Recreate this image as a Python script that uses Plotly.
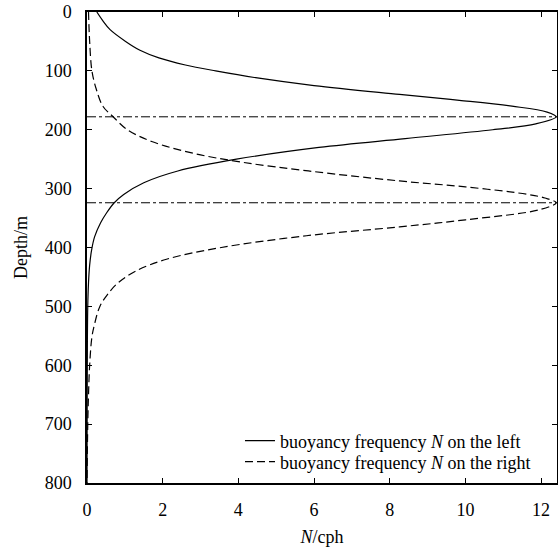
import plotly.graph_objects as go

# Solid curve: buoyancy frequency N on the left
depth_left = [0, 15, 30, 50, 65, 78, 90, 100, 112, 125, 140, 150, 160, 170, 178,
              190, 200, 215, 230, 250, 270, 290, 310, 324, 341, 358, 382, 405,
              430, 460, 500, 560, 650, 800]
n_left = [0.26, 0.42, 0.61, 1.02, 1.4, 1.9, 2.6, 3.4, 4.5, 6.0, 8.26, 9.84, 11.23,
          12.16, 12.4, 11.86, 10.72, 8.41, 6.13, 3.95, 2.4, 1.5, 0.97, 0.72, 0.52,
          0.36, 0.2, 0.12, 0.07, 0.04, 0.02, 0.01, 0.005, 0.0]

# Dashed curve: buoyancy frequency N on the right
depth_right = [0, 50, 100, 130, 160, 178, 200, 220, 240, 255, 270, 287, 297, 310,
               316, 324, 336, 353, 365, 380, 400, 420, 440, 460, 480, 500, 530,
               552, 600, 650, 700, 800]
n_right = [0.04, 0.07, 0.13, 0.24, 0.42, 0.69, 1.07, 1.71, 2.81, 4.08, 5.85, 8.26,
           10.0, 11.67, 12.1, 12.4, 11.95, 10.0, 8.26, 5.8, 3.55, 2.1, 1.29, 0.82,
           0.54, 0.34, 0.2, 0.13, 0.07, 0.04, 0.02, 0.0]

peak_depths = [178, 324]

x_ticks = [0, 2, 4, 6, 8, 10, 12]
y_ticks = [0, 100, 200, 300, 400, 500, 600, 700, 800]

FONT = "Liberation Serif"

fig = go.Figure()
fig.add_trace(go.Scatter(
    x=n_left, y=depth_left, mode="lines", line_shape="spline",
    line=dict(color="black", width=1.2),
    name="buoyancy frequency <i>N</i> on the left", legend="legend"))
fig.add_trace(go.Scatter(
    x=n_right, y=depth_right, mode="lines", line_shape="spline",
    line=dict(color="black", width=1.2, dash="8px,4px"),
    name="buoyancy frequency <i>N</i> on the right", legend="legend2"))

for d in peak_depths:
    fig.add_shape(type="line", xref="paper", x0=0, x1=1, yref="y", y0=d, y1=d,
                  line=dict(color="black", width=1, dash="dashdot"))

axis_common = dict(
    showline=True, linecolor="black", linewidth=1.5, mirror="ticks",
    ticks="inside", ticklen=5, tickwidth=1, tickcolor="black",
    showgrid=False, zeroline=False,
    tickfont=dict(family=FONT, size=18, color="black"),
)

fig.update_xaxes(range=[0, 12.42], tickvals=x_ticks, ticktext=[str(v) for v in x_ticks],
                 title=dict(text="<i>N</i>/cph", font=dict(family=FONT, size=18, color="black"),
                            standoff=13),
                 ticklabelstandoff=10, **axis_common)
fig.update_yaxes(range=[800, 0], tickvals=y_ticks, ticktext=[str(v) for v in y_ticks],
                 title=dict(text="Depth/m", font=dict(family=FONT, size=18, color="black"),
                            standoff=12),
                 ticklabelstandoff=10, **axis_common)

legend_common = dict(xanchor="left", yanchor="middle", bgcolor="rgba(0,0,0,0)",
                     borderwidth=0, font=dict(family=FONT, size=18, color="black"),
                     itemwidth=30)

fig.update_layout(
    width=558, height=547,
    margin=dict(l=87, r=1, t=12, b=64, autoexpand=False),
    plot_bgcolor="white", paper_bgcolor="white",
    font=dict(family=FONT, size=18, color="black"),
    showlegend=True,
    legend=dict(x=0.3255, y=0.0892, **legend_common),
    legend2=dict(x=0.3255, y=0.0446, **legend_common),
)

fig.write_html("out.html",
               config={"displayModeBar": False},
               post_script="document.body.style.margin='0';document.body.style.overflow='hidden';")
